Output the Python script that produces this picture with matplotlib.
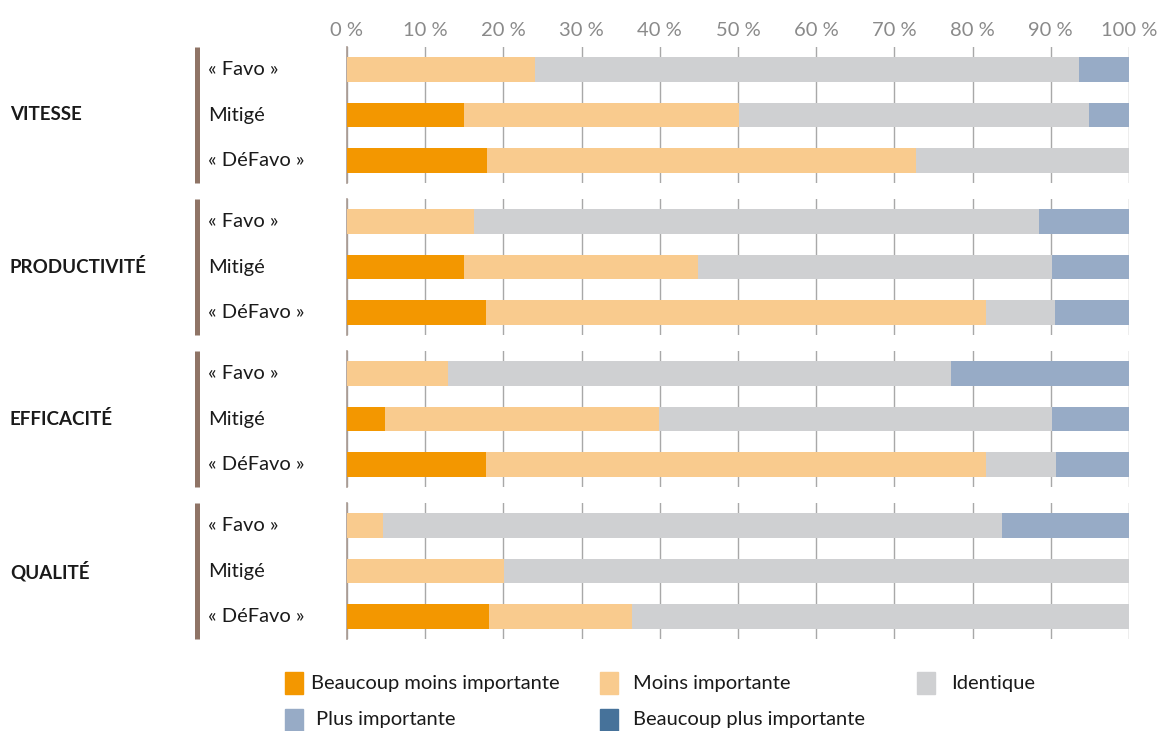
import matplotlib
matplotlib.use("Agg")
import matplotlib.pyplot as plt
from matplotlib.patches import Rectangle
import numpy as np

plt.rcParams['font.family'] = ['Lato', 'DejaVu Sans']

# data (percent of respondents)
groups = ["VITESSE", "PRODUCTIVITÉ", "EFFICACITÉ", "QUALITÉ"]
subgroups = ["« Favo »", "Mitigé", "« DéFavo »"]
series = ["Beaucoup moins importante", "Moins importante", "Identique",
          "Plus importante", "Beaucoup plus importante"]
colors = ["#F39700", "#F9CB8E", "#CFD0D2", "#97ABC6", "#46729A"]

beaucoup_moins = [[0.0, 14.9, 17.9], [0.0, 14.9, 17.8], [0.0, 4.8, 17.8], [0.0, 0.0, 18.1]]
moins = [[24.0, 35.2, 54.8], [16.2, 30.0, 63.9], [12.9, 35.1, 63.9], [4.6, 20.1, 18.3]]
identique = [[69.6, 44.8, 27.3], [72.3, 45.2, 8.8], [64.4, 50.2, 9.0], [79.2, 79.9, 63.6]]
plus = [[6.4, 5.1, 0.0], [11.5, 9.9, 9.5], [22.7, 9.9, 9.3], [16.2, 0.0, 0.0]]
beaucoup_plus = [[0.0, 0.0, 0.0], [0.0, 0.0, 0.0], [0.0, 0.0, 0.0], [0.0, 0.0, 0.0]]

ticks = np.arange(0, 101, 10)
tick_labels = [f"{t} %" for t in ticks]

W, H = 1158, 731
fig = plt.figure(figsize=(W / 100, H / 100), dpi=100)

left, right = 347, 1129
panel_top, panel_h, group_step = 47, 136, 152
all_series = [beaucoup_moins, moins, identique, plus, beaucoup_plus]
fs = 14.5

for g, name in enumerate(groups):
    top = panel_top + g * group_step
    ax = fig.add_axes([left / W, 1 - (top + panel_h) / H, (right - left) / W, panel_h / H])
    y = np.arange(len(subgroups))
    base = np.zeros(len(subgroups))
    for s, col in zip(all_series, colors):
        vals = np.array(s[g])
        ax.barh(y, vals, left=base, height=0.55, color=col, zorder=3)
        base += vals
    ax.set_xlim(0, 100)
    ax.set_ylim(2.5, -0.5)
    ax.set_yticks([])
    ax.set_xticks(ticks)
    ax.grid(axis="x", color="#A8A8A8", linewidth=1, zorder=0)
    for sp in ["top", "right", "bottom"]:
        ax.spines[sp].set_visible(False)
    ax.spines["left"].set_color("#A89A92")
    ax.spines["left"].set_linewidth(1.2)
    ax.tick_params(axis="x", length=0)
    if g == 0:
        ax.xaxis.tick_top()
        ax.set_xticklabels(tick_labels, fontsize=fs, color="#8A8A8A")
        ax.tick_params(axis="x", pad=6)
    else:
        ax.set_xticklabels([])

    # brown group bar
    bx = (197.5 - left) / (right - left) * 100
    ax.plot([bx, bx], [-0.5, 2.5], color="#8F7466", linewidth=3.6,
            solid_capstyle="butt", clip_on=False)
    for i, lab in enumerate(subgroups):
        ax.text((208 - left) / (right - left) * 100, i, lab, ha="left", va="center",
                fontsize=fs, color="#1A1A1A")
    ax.text((10 - left) / (right - left) * 100, 1, name, ha="left", va="center",
            fontsize=13.5, fontweight="bold", color="#1A1A1A")

# legend drawn by hand to follow the reference layout
leg_items = [(285, 683, 311), (600, 683, 633), (917, 683, 951),
             (285, 720, 316), (600, 720, 633)]
for (px, py, tx), lab, col in zip(leg_items, series, colors):
    fig.patches.append(Rectangle((px / W, 1 - (py + 11) / H), 18 / W, 22 / H,
                                 transform=fig.transFigure, color=col))
    fig.text(tx / W, 1 - py / H, lab, ha="left", va="center", fontsize=fs,
             color="#1A1A1A")

fig.savefig("out.png", dpi=100)
